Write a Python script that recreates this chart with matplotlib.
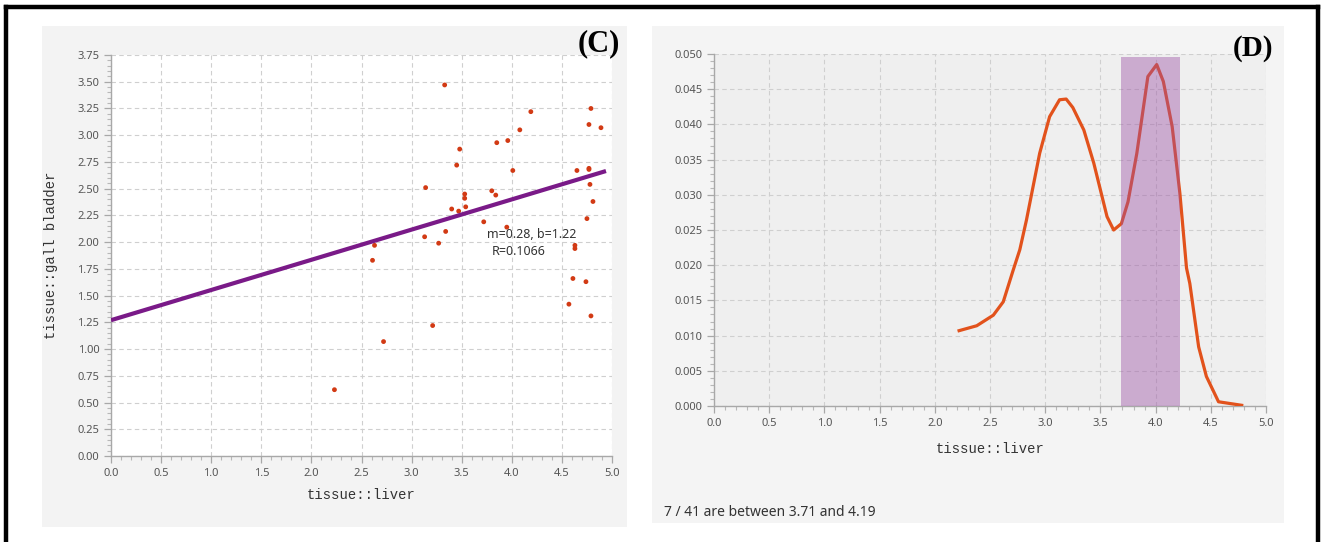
import matplotlib
matplotlib.use("Agg")
import matplotlib.pyplot as plt
from matplotlib.patches import Rectangle
from matplotlib.lines import Line2D
from matplotlib.ticker import MultipleLocator, FormatStrFormatter

# ---------------- data ----------------
liver_x = [3.33, 4.79, 4.19, 4.77, 4.89, 4.08, 3.85, 3.96, 3.48, 3.45,
           4.01, 4.65, 4.77, 4.77, 4.78, 4.81, 3.14, 3.80, 3.84, 3.53,
           3.53, 3.54, 3.40, 3.47, 3.72, 4.75, 3.95, 3.34, 3.13, 3.27,
           2.63, 4.63, 4.63, 2.61, 4.61, 4.74, 4.57, 4.79, 3.21, 2.72,
           2.23]
gall_y = [3.47, 3.25, 3.22, 3.10, 3.07, 3.05, 2.93, 2.95, 2.87, 2.72,
          2.67, 2.67, 2.68, 2.69, 2.54, 2.38, 2.51, 2.48, 2.44, 2.45,
          2.41, 2.33, 2.31, 2.29, 2.19, 2.22, 2.14, 2.10, 2.05, 1.99,
          1.97, 1.97, 1.94, 1.83, 1.66, 1.63, 1.42, 1.31, 1.22, 1.07,
          0.62]
fit_x = [0.0, 4.94]
fit_y = [1.27, 2.665]
fit_label = ["m=0.28, b=1.22", "R=0.1066"]

dens_x = [2.22, 2.38, 2.53, 2.62, 2.71, 2.77, 2.83, 2.95, 3.04, 3.13,
          3.19, 3.25, 3.35, 3.44, 3.56, 3.62, 3.69, 3.75, 3.83, 3.93,
          4.01, 4.07, 4.15, 4.22, 4.28, 4.31, 4.39, 4.46, 4.57, 4.78]
dens_y = [0.0107, 0.0114, 0.0129, 0.0148, 0.0193, 0.0222, 0.0264, 0.0359, 0.0411, 0.0435,
          0.0436, 0.0424, 0.0392, 0.0345, 0.0269, 0.0250, 0.0259, 0.0290, 0.0359, 0.0468,
          0.0485, 0.0461, 0.0397, 0.0302, 0.0196, 0.0174, 0.0084, 0.0042, 0.0006, 0.0001]
band_range = [3.69, 4.22]
band_top = 0.0496
footer = "7 / 41 are between 3.71 and 4.19"

# ---------------- figure ----------------
W, H = 1321, 542
fig = plt.figure(figsize=(W / 100, H / 100), dpi=100)
fig.patch.set_facecolor("white")

def fx(px):
    return px / W

def fy(py):
    return 1 - py / H

# panel backgrounds
fig.patches.append(Rectangle((fx(42), fy(527)), fx(627) - fx(42), fy(26) - fy(527),
                             transform=fig.transFigure, facecolor="#f3f3f3", edgecolor="none", zorder=-5))
fig.patches.append(Rectangle((fx(652), fy(523)), fx(1284) - fx(652), fy(26) - fy(523),
                             transform=fig.transFigure, facecolor="#f4f4f4", edgecolor="none", zorder=-5))
# outer border (top, left, right)
for xs, ys in [([fx(6), fx(1318)], [fy(7), fy(7)]),
               ([fx(6), fx(6)], [fy(7), fy(542)]),
               ([fx(1318), fx(1318)], [fy(7), fy(542)])]:
    fig.add_artist(Line2D(xs, ys, transform=fig.transFigure, color="black", lw=3.2, zorder=10))

mono = dict(family="Liberation Mono", size=10, color="#333333")

def style_axes(ax, face):
    ax.set_zorder(2)
    ax.set_facecolor(face)
    for s in ["top", "right"]:
        ax.spines[s].set_visible(False)
    for s in ["left", "bottom"]:
        ax.spines[s].set_color("#a8a8a8")
        ax.spines[s].set_linewidth(1.0)
    ax.tick_params(which="major", direction="out", length=5, width=0.9, color="#a8a8a8",
                   labelsize=8, labelcolor="#555555")
    ax.tick_params(which="minor", direction="out", length=3, width=0.8, color="#b8b8b8")
    ax.grid(True, which="major", color="#cfcfcf", linestyle=(0, (4, 3)), linewidth=0.8)
    ax.set_axisbelow(True)

# ---------------- (C) scatter ----------------
axL = fig.add_axes([fx(111), fy(456), fx(612) - fx(111), fy(55) - fy(456)])
axL.set_xlim(0, 5)
axL.set_ylim(0, 3.75)
axL.xaxis.set_major_locator(MultipleLocator(0.5))
axL.xaxis.set_minor_locator(MultipleLocator(0.1))
axL.yaxis.set_major_locator(MultipleLocator(0.25))
axL.yaxis.set_minor_locator(MultipleLocator(0.05))
axL.xaxis.set_major_formatter(FormatStrFormatter("%.1f"))
axL.yaxis.set_major_formatter(FormatStrFormatter("%.2f"))
style_axes(axL, "white")
axL.scatter(liver_x, gall_y, s=12, color="#d23a14", edgecolors="none", zorder=3)
axL.plot(fit_x, fit_y, color="#7a1a88", lw=3.0, solid_capstyle="butt", zorder=4)
axL.text(3.75, 2.07, fit_label[0], family="Noto Sans", size=9, color="#333333",
         ha="left", va="center", zorder=5)
axL.text(3.80, 1.91, fit_label[1], family="Noto Sans", size=9, color="#333333",
         ha="left", va="center", zorder=5)
axL.set_xlabel("tissue::liver", **mono)
axL.set_ylabel("tissue::gall bladder", **mono)
axL.xaxis.set_label_coords(0.5, -0.08)
axL.yaxis.set_label_coords(-0.105, 0.5)
fig.text(fx(599), fy(44), "(C)", family="Liberation Serif", weight="bold", size=22,
         ha="center", va="center", color="black")

# ---------------- (D) density ----------------
axR = fig.add_axes([fx(714), fy(406), fx(1266) - fx(714), fy(54) - fy(406)])
axR.set_xlim(0, 5)
axR.set_ylim(0, 0.05)
axR.xaxis.set_major_locator(MultipleLocator(0.5))
axR.xaxis.set_minor_locator(MultipleLocator(0.1))
axR.yaxis.set_major_locator(MultipleLocator(0.005))
axR.yaxis.set_minor_locator(MultipleLocator(0.001))
axR.xaxis.set_major_formatter(FormatStrFormatter("%.1f"))
axR.yaxis.set_major_formatter(FormatStrFormatter("%.3f"))
style_axes(axR, "#efefef")
axR.plot(dens_x, dens_y, color="#e2521c", lw=2.3, zorder=3)
axR.fill_between(band_range, 0, band_top, color="#9b4fa5", alpha=0.42, lw=0, zorder=4)
axR.set_xlabel("tissue::liver", **mono)
axR.xaxis.set_label_coords(0.5, -0.102)
fig.text(fx(1253), fy(49), "(D)", family="Liberation Serif", weight="bold", size=21,
         ha="center", va="center", color="black", zorder=5)
fig.text(fx(664), fy(512), footer, family="Noto Sans", size=10, color="#333333",
         ha="left", va="center")

for ax in (axL, axR):
    for lab in ax.get_xticklabels() + ax.get_yticklabels():
        lab.set_family("Noto Sans")

fig.savefig("out.png", dpi=100, facecolor="white")
